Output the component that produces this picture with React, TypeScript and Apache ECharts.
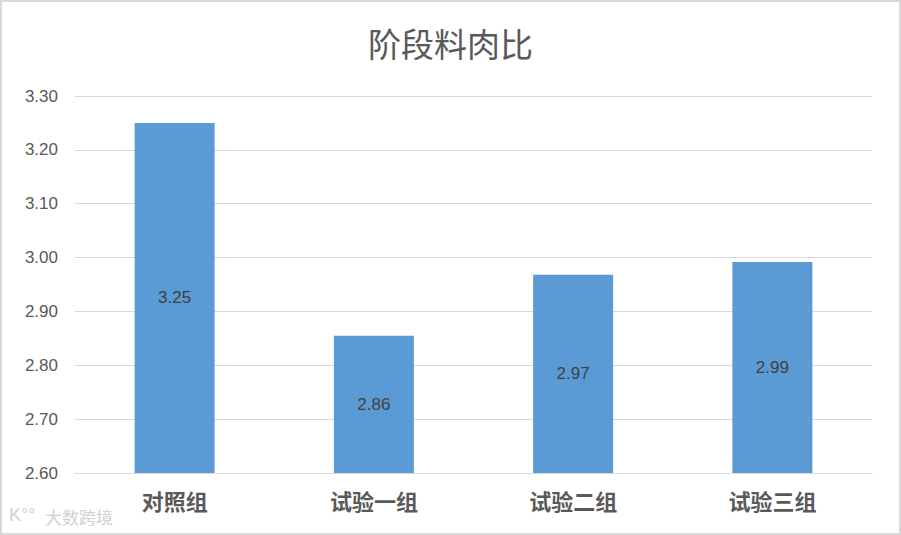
import React, { useEffect, useRef } from "react";
import * as echarts from "echarts";

const title = "阶段料肉比";
const categories = ["对照组", "试验一组", "试验二组", "试验三组"];
const values = [3.25, 2.855, 2.968, 2.992];
const yMin = 2.6;
const yMax = 3.3;
const yStep = 0.1;

export default function App() {
  const ref = useRef<HTMLDivElement>(null);
  useEffect(() => {
    if (!ref.current) return;
    const chart = echarts.init(ref.current, undefined, { renderer: "svg" });
    chart.setOption({
      animation: false,
      backgroundColor: "#ffffff",
      title: {
        text: title,
        left: "center",
        top: 21,
        textStyle: {
          fontFamily: "Noto Sans CJK SC",
          fontSize: 33,
          fontWeight: "normal",
          color: "#595959",
        },
      },
      grid: { left: 75, right: 29, top: 96, bottom: 62 },
      xAxis: {
        type: "category",
        data: categories,
        axisLine: { show: true, lineStyle: { color: "#d9d9d9", width: 1 } },
        axisTick: { show: false },
        axisLabel: {
          fontFamily: "Noto Sans CJK SC",
          fontSize: 22,
          fontWeight: "bold",
          color: "#595959",
          margin: 16,
        },
      },
      yAxis: {
        type: "value",
        min: yMin,
        max: yMax,
        interval: yStep,
        axisLine: { show: false },
        axisTick: { show: false },
        splitLine: { lineStyle: { color: "#d9d9d9", width: 1 } },
        axisLabel: {
          formatter: (v: number) => v.toFixed(2),
          fontFamily: "Liberation Sans",
          fontSize: 17,
          color: "#595959",
          margin: 17,
        },
      },
      series: [
        {
          type: "bar",
          data: values,
          barWidth: 80,
          itemStyle: { color: "#5b9bd5" },
          label: {
            show: true,
            position: "inside",
            formatter: (p: any) => (Math.round(p.value * 100 + 1e-6) / 100).toFixed(2),
            fontFamily: "Liberation Sans",
            fontSize: 17,
            color: "#404040",
          },
        },
      ],
      graphic: [
        {
          type: "rect",
          shape: { x: 1, y: 1, width: 899, height: 533 },
          style: { fill: "none", stroke: "#d9d9d9", lineWidth: 2 },
          silent: true,
        },
        {
          type: "text",
          left: 9,
          top: 506,
          style: {
            text: "K°°",
            fontFamily: "Liberation Sans",
            fontSize: 18,
            fill: "#d0d0d0",
          },
          silent: true,
        },
        {
          type: "text",
          left: 45,
          top: 508,
          style: {
            text: "大数跨境",
            fontFamily: "Noto Sans CJK SC",
            fontSize: 17,
            fill: "#d0d0d0",
          },
          silent: true,
        },
      ],
    });
    return () => chart.dispose();
  }, []);
  return (
    <div
      ref={ref}
      style={{ position: "fixed", left: 0, top: 0, width: 901, height: 535 }}
    />
  );
}
